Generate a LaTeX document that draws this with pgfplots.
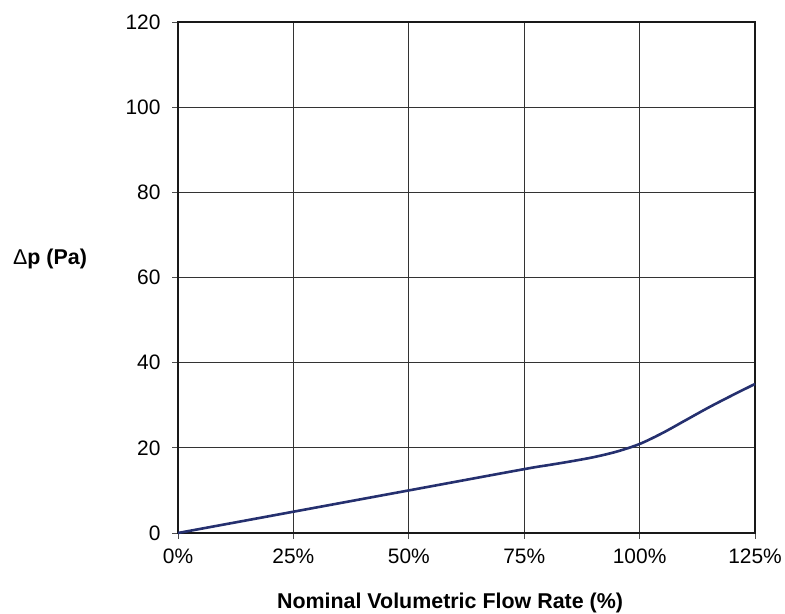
\documentclass[border=0pt]{standalone}
\usepackage{fontspec}
\setmainfont{Liberation Sans}
\usepackage{pgfplots}
\pgfplotsset{compat=1.18}
\definecolor{curve}{HTML}{25306F}
\begin{document}
\begin{tikzpicture}
\path[use as bounding box] (0,0) rectangle (785bp,614bp);
\begin{axis}[
  at={(178bp,81bp)}, anchor=south west,
  scale only axis, width=577bp, height=511bp,
  xmin=0, xmax=125, ymin=0, ymax=120,
  xtick={0,25,50,75,100,125},
  xticklabels={0\%,25\%,50\%,75\%,100\%,125\%},
  ytick={0,20,...,120},
  xtick pos=bottom, ytick pos=left,
  grid=major,
  grid style={black!80, line width=0.8bp},
  axis line style={black!90, line width=2.5bp},
  tick style={black!70, line width=0.8bp},
  tick align=outside, major tick length=6bp,
  /pgf/number format/assume math mode=true,
  tick label style={font=\fontsize{21}{24}\selectfont},
  xticklabel style={yshift=-6bp},
  yticklabel style={xshift=-8bp},
  clip=false,
]
\addplot[curve, line width=2.6bp, smooth, tension=0.5] coordinates {
(0,0) (25,5) (50,10) (75,15) (80,15.9) (85,16.8) (90,17.8) (95,19.1) (100,20.9) (105,23.5) (110,26.5) (115,29.5) (120,32.3) (125,35)
};
\end{axis}
\node[font=\fontsize{21.5}{24}\selectfont] at (50bp,355bp) {Δ\textbf{p (Pa)}};
\node[font=\fontsize{21.5}{24}\selectfont\bfseries] at (450bp,11bp) {Nominal Volumetric Flow Rate (\%)};
\end{tikzpicture}
\end{document}
